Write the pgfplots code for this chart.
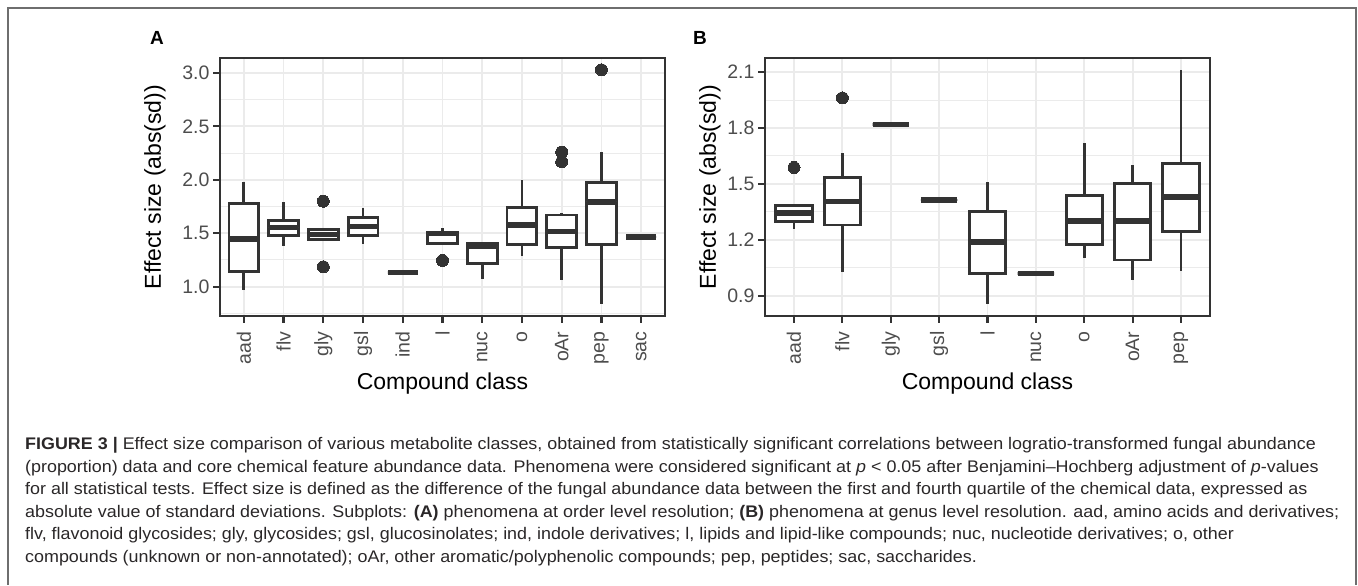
\documentclass[border=0pt]{standalone}
\usepackage{fontspec}
\setmainfont{Liberation Sans}
\newfontfamily\capfont[FakeStretch=1.066]{Liberation Sans}
\usepackage{pgfplots}
\pgfplotsset{compat=1.18}
\usepgfplotslibrary{statistics}

\definecolor{g20}{HTML}{333333}
\definecolor{g30}{HTML}{4D4D4D}
\definecolor{g92}{HTML}{EBEBEB}
\definecolor{captext}{HTML}{2A2728}
\definecolor{framec}{HTML}{6E6E6E}

\pgfplotsset{
  panel/.style={
    scale only axis, width=445pt, height=258pt,
    axis line style={g20, line width=1.3pt},
    tick pos=left,
    tick align=outside, major tick length=7pt, minor tick length=0pt,
    tick style={g20, line width=2.2pt},
    xmajorgrids, ymajorgrids, yminorgrids,
    major grid style={g92, line width=1.8pt},
    minor grid style={g92, line width=0.9pt},
    tick label style={font=\fontsize{19.5}{19.5}\selectfont, color=g30},
    xticklabel style={yshift=-5pt, rotate=90, anchor=east},
    yticklabel style={/pgf/number format/.cd, fixed, fixed zerofill, precision=1},
    /pgf/number format/assume math mode=true,
    xlabel={Compound class},
    ylabel={Effect size (abs(sd))},
    label style={font=\fontsize{23}{23}\selectfont},
    xlabel style={at={(axis description cs:0.5,-0.262)}, anchor=center},
    boxplot/draw direction=y,
    boxplot/box extend=0.75,
    boxplot/whisker extend=0,
    boxplot/every median/.style={line width=5.5pt, line cap=butt},
  },
  bx/.style={g20, line width=2.8pt, fill=white,
    mark=*, mark size=6pt, mark options={fill=g20, draw=g20, line width=0pt},
    boxplot prepared={#1}},
}

\begin{document}
\begin{tikzpicture}
\path (0pt,0pt) rectangle (1358pt,583pt);
\draw[framec, line width=1.2pt] (8pt,-2pt) -- (8pt,575pt) -- (1356pt,575pt) -- (1356pt,-2pt);

% panel A: order level
\begin{axis}[panel, at={(220pt,267pt)}, anchor=south west,
  xmin=0.4, xmax=11.6, ymin=0.725, ymax=3.14,
  xtick={1,...,11},
  xticklabels={aad,flv,gly,gsl,ind,l,nuc,o,oAr,pep,sac},
  ytick={1,1.5,2,2.5,3},
  minor ytick={0.75,1.25,1.75,2.25,2.75},
  ylabel style={at={(axis description cs:-0.146,0.5)}, anchor=center},
]
\addplot[bx={draw position=1, lower whisker=0.968, lower quartile=1.142, median=1.447, upper quartile=1.78, upper whisker=1.98}] coordinates {};
\addplot[bx={draw position=2, lower whisker=1.378, lower quartile=1.48, median=1.555, upper quartile=1.62, upper whisker=1.79}] coordinates {};
\addplot[bx={draw position=3, lower whisker=1.44, lower quartile=1.44, median=1.487, upper quartile=1.533, upper whisker=1.533}] coordinates {(3,1.80) (3,1.186)};
\addplot[bx={draw position=4, lower whisker=1.40, lower quartile=1.477, median=1.563, upper quartile=1.65, upper whisker=1.74}] coordinates {};
\addplot[bx={draw position=5, lower whisker=1.13, lower quartile=1.13, median=1.13, upper quartile=1.13, upper whisker=1.13}] coordinates {};
\addplot[bx={draw position=6, lower whisker=1.406, lower quartile=1.406, median=1.495, upper quartile=1.508, upper whisker=1.549}] coordinates {(6,1.245)};
\addplot[bx={draw position=7, lower whisker=1.074, lower quartile=1.217, median=1.378, upper quartile=1.406, upper whisker=1.42}] coordinates {};
\addplot[bx={draw position=8, lower whisker=1.285, lower quartile=1.393, median=1.577, upper quartile=1.74, upper whisker=2.0}] coordinates {};
\addplot[bx={draw position=9, lower whisker=1.06, lower quartile=1.363, median=1.517, upper quartile=1.67, upper whisker=1.688}] coordinates {(9,2.26) (9,2.17)};
\addplot[bx={draw position=10, lower whisker=0.835, lower quartile=1.396, median=1.793, upper quartile=1.977, upper whisker=2.256}] coordinates {(10,3.03)};
\addplot[bx={draw position=11, lower whisker=1.465, lower quartile=1.465, median=1.465, upper quartile=1.465, upper whisker=1.465}] coordinates {};
\end{axis}

% panel B: genus level
\begin{axis}[panel, at={(765pt,267pt)}, anchor=south west,
  xmin=0.4, xmax=9.6, ymin=0.792, ymax=2.175,
  xtick={1,...,9},
  xticklabels={aad,flv,gly,gsl,l,nuc,o,oAr,pep},
  ytick={0.9,1.2,1.5,1.8,2.1},
  minor ytick={1.05,1.35,1.65,1.95},
  ylabel style={at={(axis description cs:-0.124,0.5)}, anchor=center},
]
\addplot[bx={draw position=1, lower whisker=1.259, lower quartile=1.30, median=1.344, upper quartile=1.383, upper whisker=1.383}] coordinates {(1,1.588)};
\addplot[bx={draw position=2, lower whisker=1.028, lower quartile=1.28, median=1.405, upper quartile=1.535, upper whisker=1.668}] coordinates {(2,1.961)};
\addplot[bx={draw position=3, lower whisker=1.819, lower quartile=1.819, median=1.819, upper quartile=1.819, upper whisker=1.819}] coordinates {};
\addplot[bx={draw position=4, lower whisker=1.414, lower quartile=1.414, median=1.414, upper quartile=1.414, upper whisker=1.414}] coordinates {};
\addplot[bx={draw position=5, lower whisker=0.855, lower quartile=1.019, median=1.188, upper quartile=1.351, upper whisker=1.511}] coordinates {};
\addplot[bx={draw position=6, lower whisker=1.019, lower quartile=1.019, median=1.019, upper quartile=1.019, upper whisker=1.019}] coordinates {};
\addplot[bx={draw position=7, lower whisker=1.104, lower quartile=1.177, median=1.30, upper quartile=1.437, upper whisker=1.718}] coordinates {};
\addplot[bx={draw position=8, lower whisker=0.985, lower quartile=1.092, median=1.302, upper quartile=1.503, upper whisker=1.602}] coordinates {};
\addplot[bx={draw position=9, lower whisker=1.033, lower quartile=1.245, median=1.431, upper quartile=1.611, upper whisker=2.112}] coordinates {};
\end{axis}

\node[font=\fontsize{19}{19}\selectfont\bfseries] at (157pt,545pt) {A};
\node[font=\fontsize{19}{19}\selectfont\bfseries] at (700pt,545pt) {B};

\begin{scope}[every node/.style={anchor=base west, inner sep=0pt, text=captext, font=\capfont\fontsize{16.8}{16.8}\selectfont}]
\node at (25pt,133pt) {\textbf{FIGURE 3 |} Effect size comparison of various metabolite classes, obtained from statistically significant correlations between logratio-transformed fungal abundance};
\node at (25pt,110.5pt) {(proportion) data and core chemical feature abundance data. Phenomena were considered significant at \textit{p} < 0.05 after Benjamini–Hochberg adjustment of \textit{p}-values};
\node at (25pt,88pt) {for all statistical tests. Effect size is defined as the difference of the fungal abundance data between the first and fourth quartile of the chemical data, expressed as};
\node at (25pt,65.5pt) {absolute value of standard deviations. Subplots: \textbf{(A)} phenomena at order level resolution; \textbf{(B)} phenomena at genus level resolution. aad, amino acids and derivatives;};
\node at (25pt,43pt) {flv, flavonoid glycosides; gly, glycosides; gsl, glucosinolates; ind, indole derivatives; l, lipids and lipid-like compounds; nuc, nucleotide derivatives; o, other};
\node at (25pt,20.5pt) {compounds (unknown or non-annotated); oAr, other aromatic/polyphenolic compounds; pep, peptides; sac, saccharides.};
\end{scope}
\end{tikzpicture}
\end{document}
